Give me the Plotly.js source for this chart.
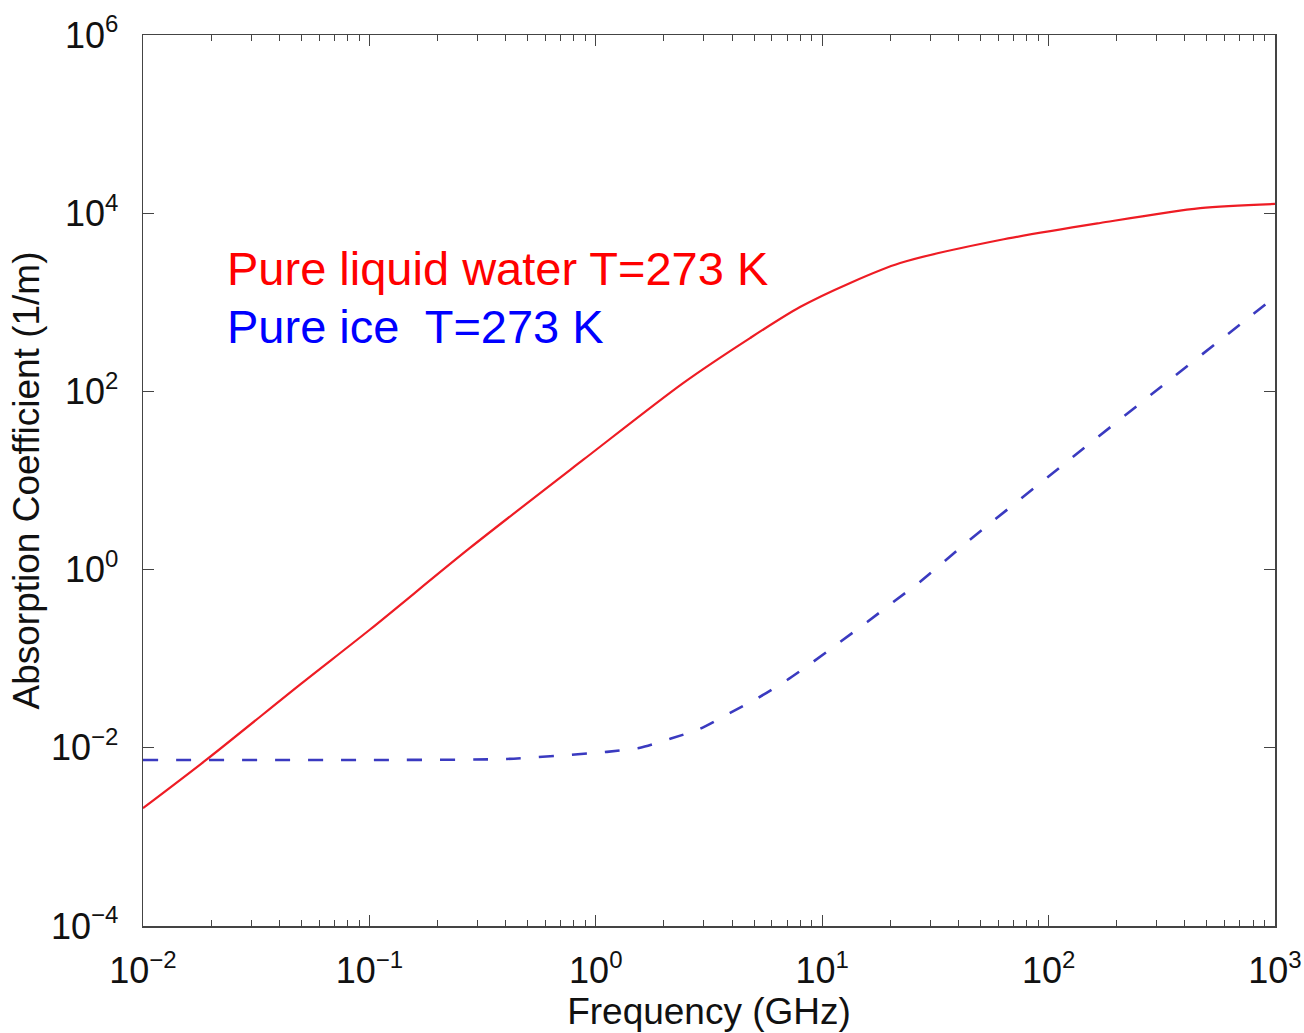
<!DOCTYPE html>
<html>
<head>
<meta charset="utf-8">
<script src="https://cdn.plot.ly/plotly-3.0.1.min.js"></script>
<style>
  html, body { margin: 0; padding: 0; background: #fff; }
  #chart { width: 1304px; height: 1033px; }
</style>
</head>
<body>
<div id="chart"></div>
<script>
// Frequency (GHz) and absorption coefficient (1/m)
const waterFreq = [0.01, 0.019, 0.05, 0.1, 0.278, 0.878, 2.43, 4.80, 7.98, 13.3, 22.1, 61.0, 169, 467, 1000];
const waterAbs  = [0.0021, 0.0073, 0.0525, 0.21, 1.75, 17.0, 124, 397, 885, 1650, 2760, 5000, 7760, 11400, 12700];

const iceFreq = [0.01, 0.1, 0.405, 1.12, 1.57, 2.13, 2.88, 3.92, 5.20, 7.00, 9.10, 12.0, 15.8, 20.6, 27.0, 43.7, 120, 333, 653, 1000];
const iceAbs  = [0.0073, 0.0073, 0.0075, 0.0090, 0.0100, 0.0126, 0.0163, 0.0246, 0.0362, 0.0577, 0.0918, 0.154, 0.258, 0.433, 0.726, 2.04, 16.1, 127, 489, 1150];

// Tick positions and their exponent labels
const xTickVals = [0.01, 0.1, 1, 10, 100, 1000];
const xTickExp  = ["\u22122", "\u22121", "0", "1", "2", "3"];
const yTickVals = [1e-4, 1e-2, 1, 1e2, 1e4, 1e6];
const yTickExp  = ["\u22124", "\u22122", "0", "2", "4", "6"];

const waterLabel = "Pure liquid water T=273 K";
const iceLabel = "Pure ice\u00a0 T=273 K";
const xTitle = "Frequency (GHz)";
const yTitle = "Absorption Coefficient (1/m)";

const FONT = "Liberation Sans, Arial, Helvetica, sans-serif";
const AXC = "#444";
const pow10 = e => "10<sup><span style='font-size:24px'>" + e + "</span></sup>";

const traces = [
  {
    x: waterFreq, y: waterAbs, type: "scatter", mode: "lines",
    line: { color: "#ee1c24", width: 2.2, shape: "spline", smoothing: 0.8 },
    showlegend: false, hoverinfo: "skip"
  },
  {
    x: iceFreq, y: iceAbs, type: "scatter", mode: "lines",
    line: { color: "#3a3ac0", width: 2.6, dash: "15px,18px", shape: "spline", smoothing: 0.6 },
    showlegend: false, hoverinfo: "skip"
  }
];

const layout = {
  width: 1304, height: 1033,
  paper_bgcolor: "#fff", plot_bgcolor: "#fff",
  margin: { l: 143, r: 29, t: 35, b: 107, pad: 0 },
  font: { family: FONT, color: "#111", size: 36 },
  xaxis: {
    type: "log", range: [-2, 3],
    tickmode: "array", tickvals: xTickVals, ticktext: xTickExp.map(pow10),
    showgrid: false, zeroline: false,
    showline: true, linecolor: AXC, linewidth: 1.5, mirror: "allticks",
    ticks: "inside", ticklen: 11, tickwidth: 1.2, tickcolor: AXC,
    tickfont: { family: FONT, size: 36, color: "#111" },
    ticklabelstandoff: 12,
    minor: { ticks: "inside", ticklen: 6, tickwidth: 1, tickcolor: AXC, dtick: "D1", showgrid: false },
    title: { text: xTitle, font: { family: FONT, size: 37, color: "#111" }, standoff: 0 },
    automargin: false
  },
  yaxis: {
    type: "log", range: [-4, 6],
    tickmode: "array", tickvals: yTickVals, ticktext: yTickExp.map(pow10),
    showgrid: false, zeroline: false,
    showline: true, linecolor: AXC, linewidth: 1.5, mirror: "allticks",
    ticks: "inside", ticklen: 11, tickwidth: 1.2, tickcolor: AXC,
    tickfont: { family: FONT, size: 36, color: "#111" },
    ticklabelstandoff: 16,
    title: { text: yTitle, font: { family: FONT, size: 37, color: "#111" }, standoff: 0 },
    automargin: false
  },
  annotations: [
    {
      text: waterLabel, xref: "paper", yref: "paper",
      x: 0.072, y: 0.738, xanchor: "left", yanchor: "middle",
      showarrow: false, font: { family: FONT, size: 47, color: "#ff0000" }
    },
    {
      text: iceLabel, xref: "paper", yref: "paper",
      x: 0.072, y: 0.673, xanchor: "left", yanchor: "middle",
      showarrow: false, font: { family: FONT, size: 47, color: "#0000ff" }
    }
  ]
};

Plotly.newPlot("chart", traces, layout, { staticPlot: true, displayModeBar: false });
</script>
</body>
</html>
